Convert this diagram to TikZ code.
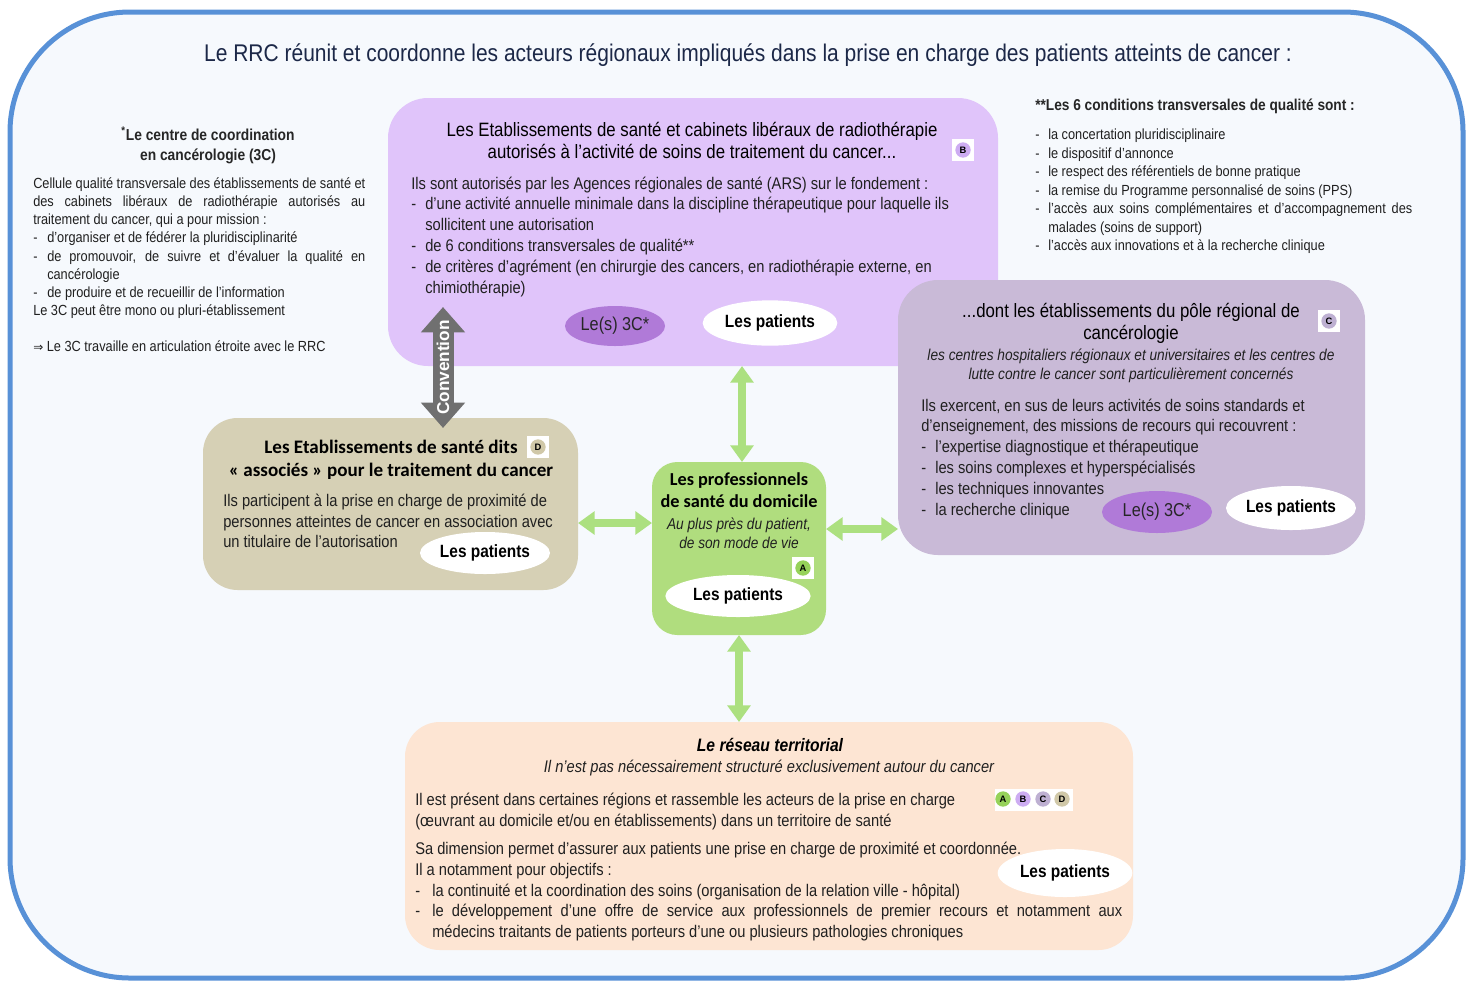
\documentclass[tikz,border=0pt]{standalone}
\usepackage{fontspec}
\setmainfont{Liberation Sans}[FakeStretch=0.87]
\newfontfamily\carl{Carlito}
\newfontfamily\dvs{DejaVu Sans}
\newfontfamily\lsw{Liberation Sans}
\usetikzlibrary{arrows.meta,shapes.geometric,fit}

\definecolor{frameblue}{RGB}{88,145,215}
\definecolor{bgtint}{RGB}{246,249,253}
\definecolor{navy}{RGB}{28,40,72}
\definecolor{txt}{RGB}{32,32,32}
\definecolor{lilac}{RGB}{224,196,250}
\definecolor{ccpurple}{RGB}{176,122,216}
\definecolor{cbox}{RGB}{201,186,215}
\definecolor{tan}{RGB}{214,208,181}
\definecolor{agreen}{RGB}{176,221,126}
\definecolor{arrgreen}{RGB}{172,224,128}
\definecolor{peach}{RGB}{253,229,211}
\definecolor{convgray}{RGB}{112,112,112}
\definecolor{dotA}{RGB}{150,210,90}
\definecolor{dotB}{RGB}{205,172,242}
\definecolor{dotC}{RGB}{190,176,210}
\definecolor{dotD}{RGB}{208,200,168}

\newcommand\jl[2]{\makebox[#1][s]{#2}}
\newcommand\dsh[1]{\makebox[#1][l]{-}}

\begin{document}
\begin{tikzpicture}[x=0.75pt,y=-0.75pt,
  every node/.style={inner sep=0pt, text=txt},
  tx/.style={yshift=-1.5pt},
  box/.style={inner sep=0pt, outer sep=0pt},
  garrow/.style={draw=arrgreen, line width=6.5pt, {Triangle[width=17pt,length=12.5pt]}-{Triangle[width=17pt,length=12.5pt]}},
  convarrow/.style={draw=convgray, line width=15.75pt, {Triangle[width=32pt,length=19pt]}-{Triangle[width=32pt,length=19pt]}},
  patient/.style={ellipse, fill=white, inner sep=0pt, text=black, font=\bfseries\fontsize{13.3}{14}\selectfont},
  ccell/.style={ellipse, fill=ccpurple, inner sep=0pt, text=black!85, font=\fontsize{14}{15}\selectfont},
  badgebox/.style={fill=white, minimum size=17pt, inner sep=0pt},
  badgedot/.style={circle, minimum size=11.5pt, inner sep=0pt, text=black, font=\lsw\bfseries\fontsize{7}{7}\selectfont},
  fsmall/.style={tx, font=\fontsize{11}{13.6}\selectfont},
  fsmallr/.style={tx, font=\fontsize{11}{13.9}\selectfont},
  fbody/.style={tx, font=\fontsize{12.65}{15.6}\selectfont},
  fhead/.style={tx, font=\fontsize{14.5}{16.5}\selectfont, text=black},
  fital/.style={tx, font=\itshape\fontsize{11.8}{14.25}\selectfont},
]
\useasboundingbox (0,0) rectangle (1473,983);
\clip (0,0) rectangle (1473,983);

% outer frame
\node[box, fit={(10,12) (1463,978)}, fill=bgtint, draw=frameblue, line width=3.75pt, rounded corners=90pt] (frame) {};

% title
\node[yshift=-2.25pt, text=navy, font=\fontsize{18.1}{20}\selectfont] (title) at (748,53) {\strut Le RRC réunit et coordonne les acteurs régionaux impliqués dans la prise en charge des patients atteints de cancer :};

% left text (3C)
\node[tx, align=center, font=\bfseries\fontsize{11.9}{15}\selectfont, text=black!85] (ccHead) at (208,144) {\strut\textsuperscript{*}Le centre de coordination\\en cancérologie (3C)\strut};
\node[anchor=west, align=left, fsmall] (ccText) at (33,264.5) {%
\strut\jl{249pt}{Cellule qualité transversale des établissements de santé et}\\
\jl{249pt}{des cabinets libéraux de radiothérapie autorisés au}\\
traitement du cancer, qui a pour mission :\\
\dsh{10.5pt}d'organiser et de fédérer la pluridisciplinarité\\
\dsh{10.5pt}\jl{238.5pt}{de promouvoir, de suivre et d'évaluer la qualité en}\\
\hspace*{10.5pt}cancérologie\\
\dsh{10.5pt}de produire et de recueillir de l'information\\
Le 3C peut être mono ou pluri-établissement\\
\mbox{}\\
{\dvs\fontsize{9}{9}\selectfont ⇒} Le 3C travaille en articulation étroite avec le RRC\strut};

% right text (conditions)
\node[tx, anchor=west, font=\bfseries\fontsize{11.8}{13}\selectfont, text=black!85] (condHead) at (1035,105) {\strut**Les 6 conditions transversales de qualité sont :};
\node[anchor=west, align=left, fsmallr] (condList) at (1035,189.5) {%
\strut\dsh{9.75pt}la concertation pluridisciplinaire\\
\dsh{9.75pt}le dispositif d'annonce\\
\dsh{9.75pt}le respect des référentiels de bonne pratique\\
\dsh{9.75pt}la remise du Programme personnalisé de soins (PPS)\\
\dsh{9.75pt}\jl{273pt}{l'accès aux soins complémentaires et d'accompagnement des}\\
\hspace*{9.75pt}malades (soins de support)\\
\dsh{9.75pt}l'accès aux innovations et à la recherche clinique\strut};

% ---------- boxes ----------
\node[box, fit={(388,98) (998,366)}, fill=lilac, rounded corners=30pt] (B) {};
\node[box, fit={(898,280) (1365,555)}, fill=cbox, rounded corners=30pt] (C) {};
\node[box, fit={(203,418) (578,590)}, fill=tan, rounded corners=26pt] (D) {};
\node[box, fit={(652,462) (826,635)}, fill=agreen, rounded corners=19pt] (A) {};
\node[box, fit={(405,722) (1133,950)}, fill=peach, rounded corners=26pt] (R) {};

% ---------- B content ----------
\node[align=center, fhead] (bTitle) at (692,141) {\strut Les Etablissements de santé et cabinets libéraux de radiothérapie\\autorisés à l'activité de soins de traitement du cancer...\strut};
\node[badgebox] (bgB) at (963,150) {};
\node[badgedot, fill=dotB] (bdB) at (bgB) {B};
\node[anchor=west, align=left, fbody] (bText) at (411,235) {%
\strut Ils sont autorisés par les Agences régionales de santé (ARS) sur le fondement :\\
\dsh{10.5pt}d'une activité annuelle minimale dans la discipline thérapeutique pour laquelle ils\\
\hspace*{10.5pt}sollicitent une autorisation\\
\dsh{10.5pt}de 6 conditions transversales de qualité**\\
\dsh{10.5pt}de critères d'agrément (en chirurgie des cancers, en radiothérapie externe, en\\
\hspace*{10.5pt}chimiothérapie)\strut};
\node[ccell, minimum width=75pt, minimum height=30pt] (ccB) at (615,326) {Le(s) 3C*};
\node[patient, minimum width=101pt, minimum height=34pt] (pB) at (770,323) {Les patients};

% ---------- C content ----------
\node[align=center, fhead] (cTitle) at (1131,322) {\strut ...dont les établissements du pôle régional de\\cancérologie\strut};
\node[badgebox] (bgC) at (1329,321) {};
\node[badgedot, fill=dotC] (bdC) at (bgC) {C};
\node[align=center, fital] (cItal) at (1131,364.5) {\strut les centres hospitaliers régionaux et universitaires et les centres de\\lutte contre le cancer sont particulièrement concernés\strut};
\node[anchor=west, align=left, fbody] (cText) at (921,457) {%
\strut Ils exercent, en sus de leurs activités de soins standards et\\
d'enseignement, des missions de recours qui recouvrent :\\
\dsh{10.5pt}l'expertise diagnostique et thérapeutique\\
\dsh{10.5pt}les soins complexes et hyperspécialisés\\
\dsh{10.5pt}les techniques innovantes\\
\dsh{10.5pt}la recherche clinique\strut};
\node[ccell, minimum width=82.5pt, minimum height=31.5pt] (ccC) at (1157,512) {Le(s) 3C*};
\node[patient, minimum width=97.5pt, minimum height=33pt] (pC) at (1291,508) {Les patients};

% ---------- D content ----------
\node[tx, align=center, font=\carl\bfseries\fontsize{14.3}{17.25}\selectfont, text=black] (dTitle) at (391,458.5) {\strut Les Etablissements de santé dits\\« associés » pour le traitement du cancer\strut};
\node[badgebox] (bgD) at (538,447) {};
\node[badgedot, fill=dotD] (bdD) at (bgD) {D};
\node[anchor=west, align=left, fbody] (dText) at (223,521) {%
\strut Ils participent à la prise en charge de proximité de\\
personnes atteintes de cancer en association avec\\
un titulaire de l'autorisation\strut};
\node[patient, minimum width=97.5pt, minimum height=31.5pt] (pD) at (485,553) {Les patients};

% ---------- A content ----------
\node[tx, align=center, font=\carl\bfseries\fontsize{13.7}{16.5}\selectfont, text=black] (aTitle) at (739,490) {\strut Les professionnels\\de santé du domicile\strut};
\node[align=center, fital] (aItal) at (739,533.5) {\strut Au plus près du patient,\\de son mode de vie\strut};
\node[badgebox] (bgA) at (803,568) {};
\node[badgedot, fill=dotA] (bdA) at (bgA) {A};
\node[patient, minimum width=109pt, minimum height=31.5pt] (pA) at (738,596) {Les patients};

% ---------- Réseau content ----------
\node[tx, font=\bfseries\itshape\fontsize{13.5}{15}\selectfont, text=black] (rTitle) at (770,745) {\strut Le réseau territorial};
\node[tx, font=\itshape\fontsize{12.65}{15}\selectfont] (rSub) at (769,766) {\strut Il n'est pas nécessairement structuré exclusivement autour du cancer};
\node[anchor=west, align=left, fbody] (rText1) at (415,809.5) {%
\strut Il est présent dans certaines régions et rassemble les acteurs de la prise en charge\\
(œuvrant au domicile et/ou en établissements) dans un territoire de santé\strut};
\node[anchor=west, align=left, fbody] (rText2) at (415,890) {%
\strut Sa dimension permet d'assurer aux patients une prise en charge de proximité et coordonnée.\\
Il a notamment pour objectifs :\\
\dsh{12.75pt}la continuité et la coordination des soins (organisation de la relation ville - hôpital)\\
\dsh{12.75pt}\jl{517.5pt}{le développement d'une offre de service aux professionnels de premier recours et notamment aux}\\
\hspace*{12.75pt}médecins traitants de patients porteurs d'une ou plusieurs pathologies chroniques\strut};
\node[fill=white, minimum width=58.5pt, minimum height=16.5pt] (bgAll) at (1034,799.5) {};
\node[badgedot, fill=dotA] (rdA) at (1003,799) {A};
\node[badgedot, fill=dotB] (rdB) at (1023,799) {B};
\node[badgedot, fill=dotC] (rdC) at (1043,799) {C};
\node[badgedot, fill=dotD] (rdD) at (1062,799) {D};
\node[patient, minimum width=101pt, minimum height=36pt] (pR) at (1065,873) {Les patients};

% ---------- connectors ----------
\coordinate (yDA) at (0,523);
\coordinate (yAC) at (0,529);
\coordinate (xBA) at (742,0);
\draw[garrow] (B.south -| xBA) -- (A.north -| xBA);
\draw[garrow] (D.east |- yDA) -- (A.west |- yDA);
\draw[garrow] (A.east |- yAC) -- (C.west |- yAC);
\draw[garrow] (A.south) -- (A.south |- R.north);

\coordinate (cvTop) at (443,307);
\coordinate (cvBot) at (443,428);
\draw[convarrow] (cvBot) -- (cvTop) node[midway, rotate=90, text=white, font=\lsw\bfseries\fontsize{12.9}{13}\selectfont] (conv) {Convention};
\end{tikzpicture}
\end{document}
